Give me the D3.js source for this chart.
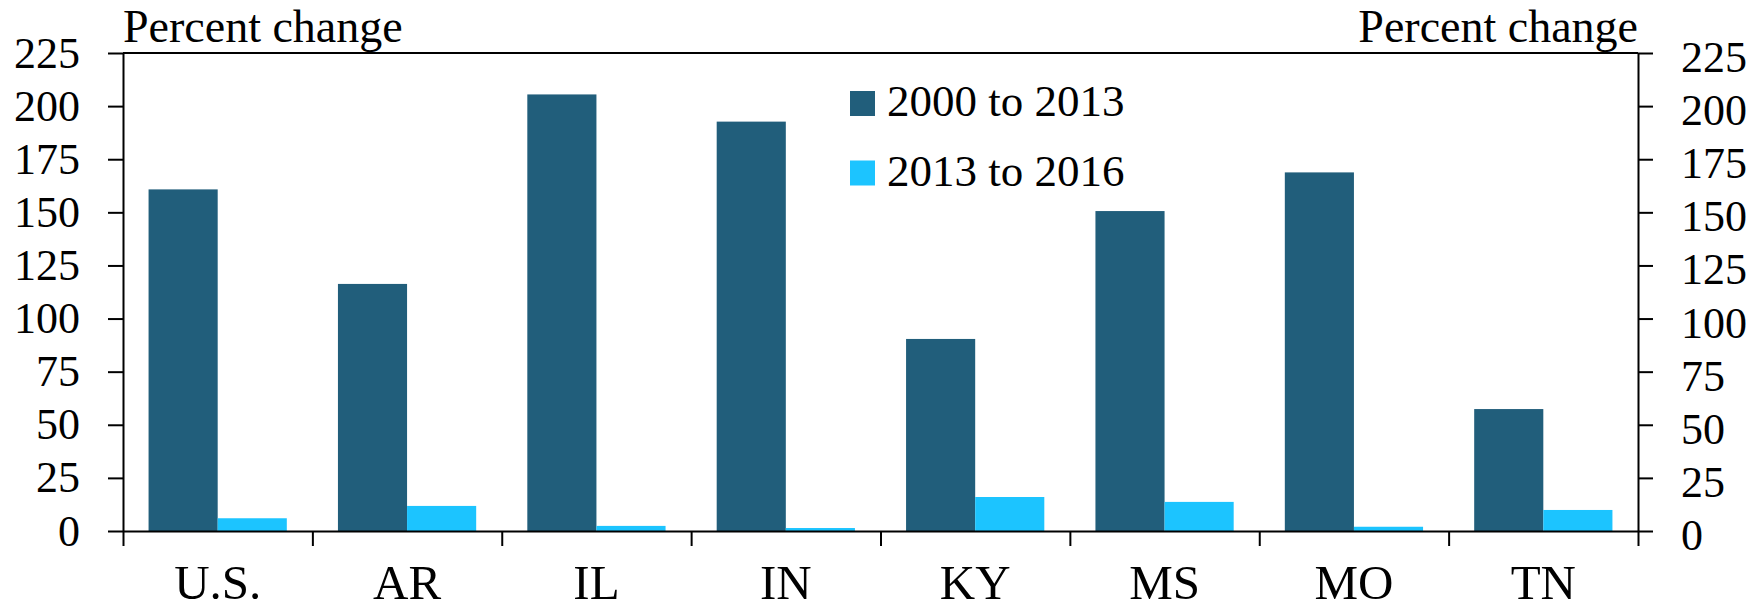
<!DOCTYPE html>
<html>
<head>
<meta charset="utf-8">
<script src="https://cdn.jsdelivr.net/npm/d3@7"></script>
<style>
  body { margin: 0; background: #fff; }
  svg text { font-family: "Liberation Serif", "Times New Roman", serif; fill: #000; }
</style>
</head>
<body>
<svg id="chart"></svg>
<script>
const categories = ['U.S.', 'AR', 'IL', 'IN', 'KY', 'MS', 'MO', 'TN'];
const series2000to2013 = [160.8, 116.3, 205.5, 192.7, 90.4, 150.6, 168.8, 57.4];
const series2013to2016 = [6.0, 11.8, 2.4, 1.4, 16.0, 13.7, 2.0, 9.9];
const seriesNames = ['2000 to 2013', '2013 to 2016'];
const seriesColors = ['#215e7b', '#1cc4ff'];
const yTicks = [0, 25, 50, 75, 100, 125, 150, 175, 200, 225];
const axisTitle = 'Percent change';

const width = 1748, height = 612;
const margin = {top: 53, right: 110, bottom: 81, left: 123};

const svg = d3.select('#chart')
    .attr('width', width)
    .attr('height', height);

const plotW = width - margin.left - margin.right;
const plotH = height - margin.top - margin.bottom;

const g = svg.append('g').attr('transform', `translate(${margin.left},${margin.top})`);

// scales
const x0 = d3.scaleBand()
    .domain(categories)
    .range([0, plotW])
    .paddingInner(0.27)
    .paddingOuter(0.135);
const x1 = d3.scaleBand()
    .domain(seriesNames)
    .range([0, x0.bandwidth()])
    .padding(0);
const y = d3.scaleLinear()
    .domain([0, 225])
    .range([plotH, 0]);

const rows = categories.map((c, i) => ({
    cat: c,
    values: [series2000to2013[i], series2013to2016[i]]
}));

// bars
const groups = g.selectAll('.grp').data(rows).enter()
    .append('g')
    .attr('transform', d => `translate(${x0(d.cat)},0)`);
groups.selectAll('rect')
    .data(d => d.values.map((v, k) => ({name: seriesNames[k], v: v, k: k})))
    .enter().append('rect')
    .attr('x', d => x1(d.name))
    .attr('y', d => y(d.v))
    .attr('width', x1.bandwidth())
    .attr('height', d => plotH - y(d.v))
    .attr('fill', d => seriesColors[d.k]);

// left y axis
const yLeft = g.append('g')
    .call(d3.axisLeft(y).tickValues(yTicks).tickSize(15).tickSizeOuter(0).tickPadding(28));
// right y axis
const yRight = g.append('g')
    .attr('transform', `translate(${plotW},0)`)
    .call(d3.axisRight(y).tickValues(yTicks).tickSize(15).tickSizeOuter(0).tickPadding(28));
yRight.selectAll('text').attr('dy', '0.42em');

[yLeft, yRight].forEach(a => {
    a.selectAll('path, line').attr('stroke', '#000').attr('stroke-width', 2);
    a.selectAll('text').style('font-size', '44px').style('font-family', '"Liberation Serif", serif');
});

// top border
g.append('line')
    .attr('x1', 0).attr('x2', plotW)
    .attr('y1', y(225)).attr('y2', y(225))
    .attr('stroke', '#000').attr('stroke-width', 2);

// x axis: boundary ticks
const xb = d3.scaleLinear().domain([0, categories.length]).range([0, plotW]);
const xTicks = g.append('g')
    .attr('transform', `translate(0,${plotH})`)
    .call(d3.axisBottom(xb).tickValues(d3.range(categories.length + 1)).tickSize(15).tickSizeOuter(0).tickFormat(''));
xTicks.selectAll('path, line').attr('stroke', '#000').attr('stroke-width', 2);

// x labels
const xLab = g.append('g')
    .attr('transform', `translate(0,${plotH})`)
    .call(d3.axisBottom(x0).tickSize(0));
xLab.select('.domain').remove();
xLab.selectAll('text')
    .attr('y', 68).attr('dy', 0)
    .style('font-size', '49px')
    .style('font-family', '"Liberation Serif", serif');

// axis titles
svg.append('text')
    .attr('x', margin.left).attr('y', 42)
    .style('font-size', '46px')
    .text(axisTitle);
svg.append('text')
    .attr('x', margin.left + plotW).attr('y', 42)
    .attr('text-anchor', 'end')
    .style('font-size', '46px')
    .text(axisTitle);

// legend
const legend = svg.append('g').attr('transform', 'translate(850,91)');
seriesNames.forEach((n, i) => {
    const row = legend.append('g').attr('transform', `translate(0,${i * 69.5})`);
    row.append('rect').attr('width', 25).attr('height', 25).attr('fill', seriesColors[i]);
    row.append('text').attr('x', 37).attr('y', 25)
        .style('font-size', '45px')
        .text(n);
});
</script>
</body>
</html>
